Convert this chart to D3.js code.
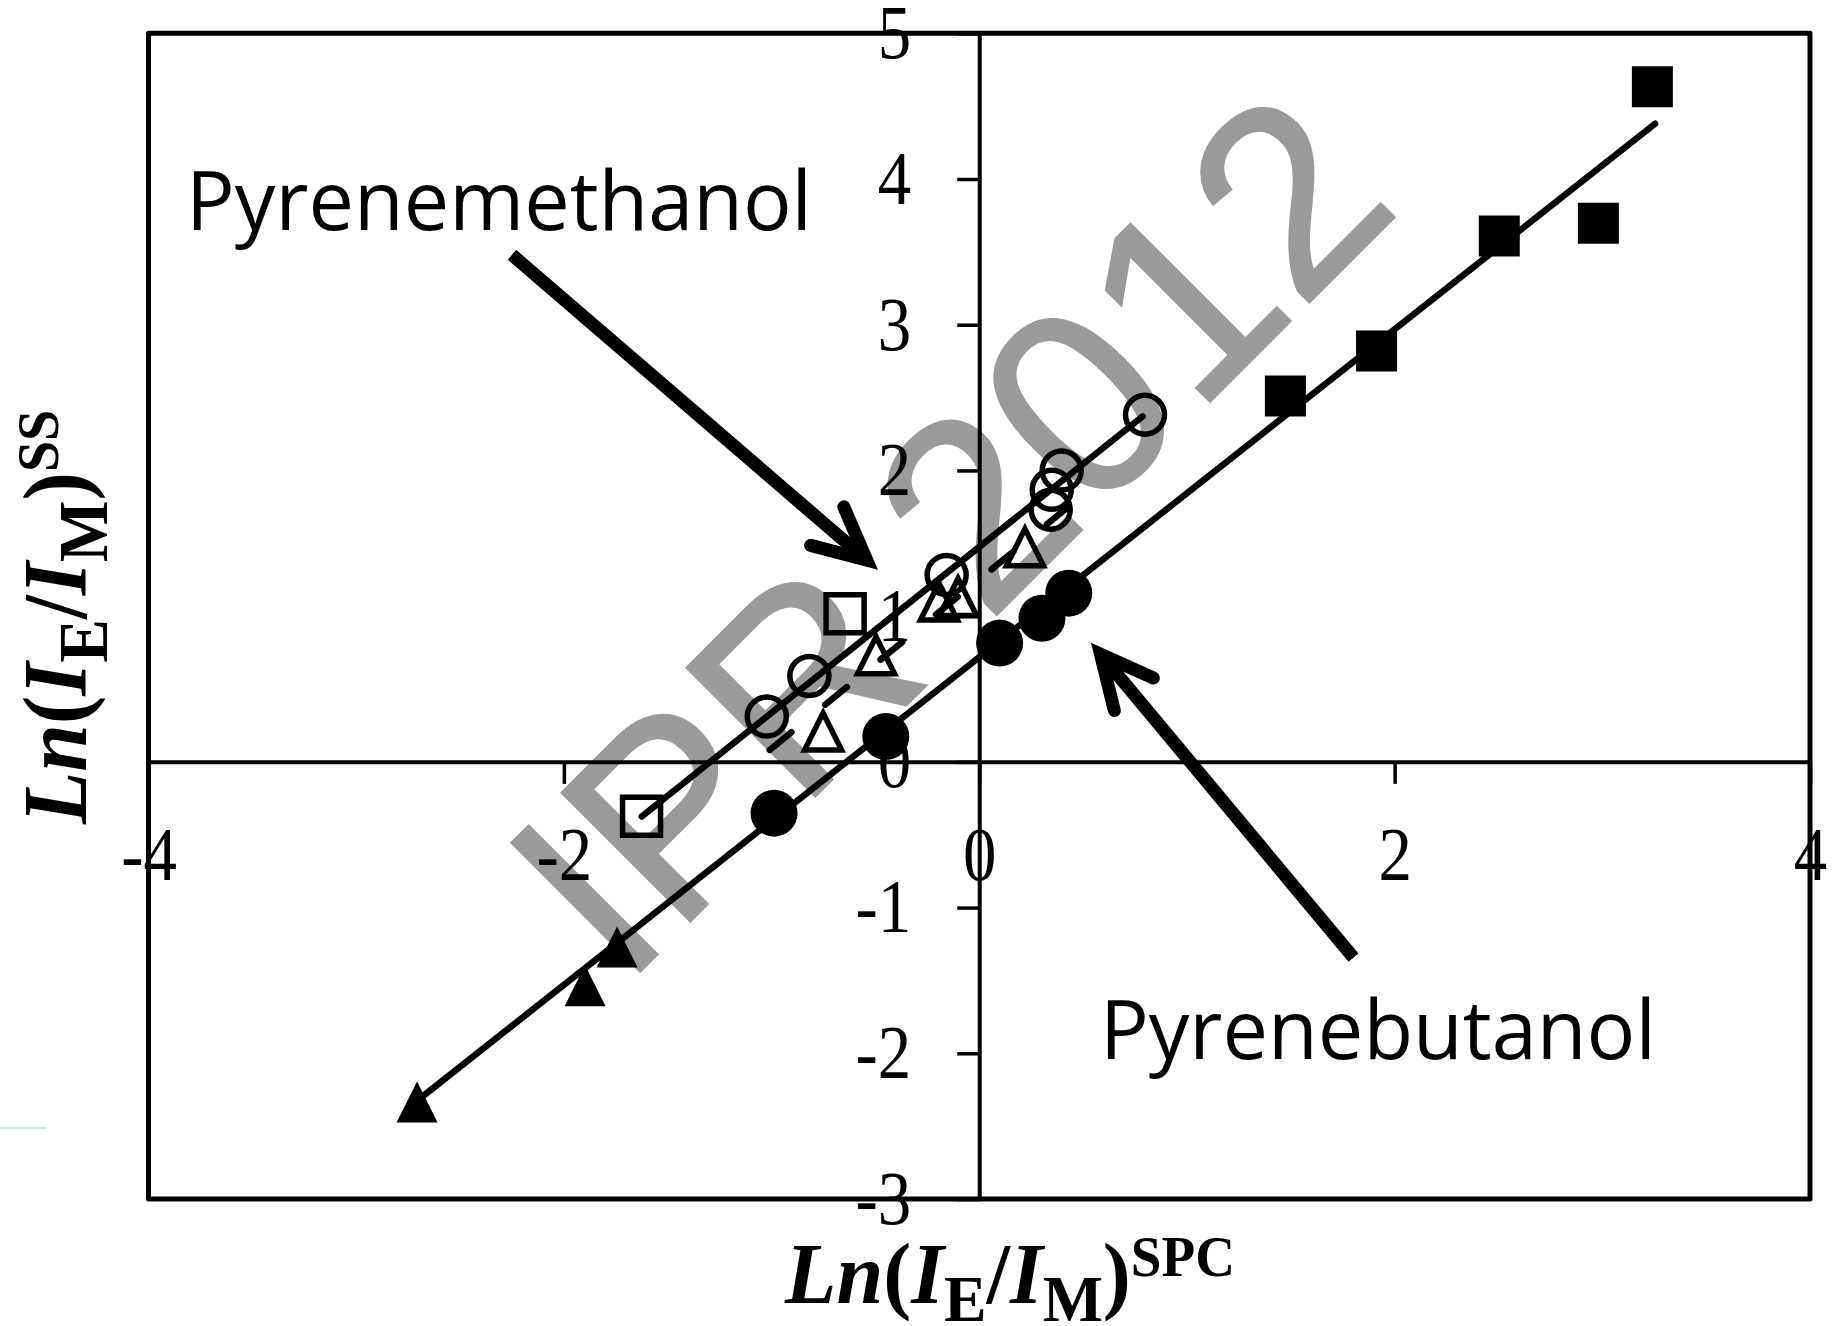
<!DOCTYPE html>
<html>
<head>
<meta charset="utf-8">
<script src="https://cdn.jsdelivr.net/npm/d3@7"></script>
<style>
  body { margin: 0; background: #fff; }
  svg { display: block; }
</style>
</head>
<body>
<div id="chart"></div>
<script>
var width = 1834, height = 1326;

// values (Ln(IE/IM) SPC on x, SS on y)
var filledSquareX = [3.241, 2.981, 2.504, 1.913, 1.474];
var filledSquareY = [4.633, 3.697, 3.609, 2.819, 2.510];
var filledCircleX = [-0.988, -0.450, 0.098, 0.302, 0.431];
var filledCircleY = [-0.352, 0.174, 0.815, 0.986, 1.158];
var filledTriX = [-2.707, -1.744, -1.898];
var filledTriY = [-2.334, -1.270, -1.537];
var openCircleX = [-1.023, -0.818, -0.157, 0.344, 0.349, 0.397, 0.798];
var openCircleY = [0.311, 0.590, 1.283, 1.730, 1.867, 1.999, 2.382];
var openTriX = [-0.752, -0.497, -0.194, -0.102, 0.220];
var openTriY = [0.208, 0.731, 1.100, 1.132, 1.472];
var openSquareX = [-1.626, -0.646];
var openSquareY = [-0.374, 1.016];

// trend lines [x1, y1, x2, y2]
var butanolFit = [-2.683, -2.299, 3.254, 4.379];
var methanolFit = [-1.625, -0.375, 0.786, 2.370];
var triangleFit = [-1.009, 0.082, 0.451, 1.776];

var xTicks = [-4, -2, 0, 2, 4];
var yTicks = [-3, -2, -1, 0, 1, 2, 3, 4, 5];

// annotations, in data units: [x, y]
var methLabel = [-3.819, 3.651];
var butLabel = [0.581, -2.038];
var methArrow = [-2.250, 3.480, -0.4875, 1.318];   // start, tip
var butArrow = [1.802, -1.344, 0.538, 0.817];
var watermarkPos = [0.165, 1.122];

var svg = d3.select("#chart").append("svg")
    .attr("width", width)
    .attr("height", height);

var x = d3.scaleLinear().domain([-4, 4]).range([148.5, 1810]);
var y = d3.scaleLinear().domain([-3, 5]).range([1199, 33.3]);

// grey watermark, sits under everything
svg.append("text")
    .attr("transform", `translate(${x(watermarkPos[0])},${y(watermarkPos[1])}) rotate(-45)`)
    .attr("text-anchor", "middle")
    .style("font-family", "'Liberation Sans', Arial, sans-serif")
    .style("font-size", "265px")
    .style("fill", "#9a9a9a")
    .style("stroke", "#9a9a9a")
    .style("stroke-width", 2)
    .text("IPR 2012");

// stray pale line at far left
svg.append("line")
    .attr("x1", 0).attr("x2", 46).attr("y1", 1128).attr("y2", 1128)
    .style("stroke", "#bfe0e8").style("stroke-width", 1.5);

// plot frame
svg.append("rect")
    .attr("x", x(-4)).attr("y", y(5))
    .attr("width", x(4) - x(-4)).attr("height", y(-3) - y(5))
    .style("fill", "none").style("stroke", "#000").style("stroke-width", 5)
    .style("stroke-linejoin", "round");

// axes crossing at zero
var yAxis = d3.axisLeft(y).tickValues(yTicks).tickSize(22).tickSizeOuter(0)
    .tickPadding(46).tickFormat(function(d) { return String(d); });
var xAxis = d3.axisBottom(x).tickValues(xTicks).tickSize(22).tickSizeOuter(0)
    .tickPadding(42).tickFormat(function(d) { return String(d); });

var gy = svg.append("g").attr("transform", `translate(${x(0)},0)`).call(yAxis);
var gx = svg.append("g").attr("transform", `translate(0,${y(0)})`).call(xAxis);

[gx, gy].forEach(function(g) {
  g.select(".domain").style("stroke", "#000").style("stroke-width", 4);
  g.selectAll(".tick line").style("stroke", "#000").style("stroke-width", 3.5);
  g.selectAll(".tick text")
    .style("font-family", "'Liberation Serif', 'Times New Roman', serif")
    .style("font-size", "76px")
    .style("fill", "#000");
});
// the digits in the picture are a bit narrow
gy.selectAll(".tick text").attr("x", -68 / 0.88).attr("transform", "scale(0.88,1)");
gx.selectAll(".tick text").attr("transform", "scale(0.88,1)");

// trend lines
function fitLine(p, dash) {
  svg.append("line")
      .attr("x1", x(p[0])).attr("y1", y(p[1]))
      .attr("x2", x(p[2])).attr("y2", y(p[3]))
      .style("stroke", "#000").style("stroke-width", 6.5)
      .style("stroke-linecap", "round")
      .style("stroke-dasharray", dash || null);
}
fitLine(butanolFit);
fitLine(methanolFit);
fitLine(triangleFit, "28 43.5");

// markers
function tri(h) {
  return `M0,${-h}L${h},${h}L${-h},${h}Z`;
}
function sq(h) {
  return `M${-h},${-h}H${h}V${h}H${-h}Z`;
}

function markers(xs, ys, shape, filled) {
  var sel = svg.append("g").selectAll("path")
    .data(d3.zip(xs, ys))
    .enter();
  var m;
  if (shape === "circle") {
    m = sel.append("circle")
      .attr("cx", function(d) { return x(d[0]); })
      .attr("cy", function(d) { return y(d[1]); })
      .attr("r", filled ? 23.5 : 19.5);
  } else {
    m = sel.append("path")
      .attr("transform", function(d) { return `translate(${x(d[0])},${y(d[1])})`; })
      .attr("d", shape === "square" ? sq(filled ? 20.5 : 19) : tri(filled ? 20.5 : 18.5));
  }
  if (filled) m.style("fill", "#000");
  else m.style("fill", "none").style("stroke", "#000").style("stroke-width", 5.5)
        .style("stroke-linejoin", "miter");
}

markers(openCircleX, openCircleY, "circle", false);
markers(openTriX, openTriY, "triangle", false);
markers(openSquareX, openSquareY, "square", false);
markers(filledCircleX, filledCircleY, "circle", true);
markers(filledSquareX, filledSquareY, "square", true);
markers(filledTriX, filledTriY, "triangle", true);

// annotation arrows
function arrow(a) {
  var x1 = x(a[0]), y1 = y(a[1]), x2 = x(a[2]), y2 = y(a[3]);
  var back = Math.atan2(y1 - y2, x1 - x2);
  var half = 26 * Math.PI / 180, L = 58, w = 13;
  // pull the vertex back so the mitred point lands on the tip
  var pull = (w / 2) / Math.sin(half);
  var vx = x2 + pull * Math.cos(back), vy = y2 + pull * Math.sin(back);
  svg.append("line")
      .attr("x1", x1).attr("y1", y1)
      .attr("x2", vx + 8 * Math.cos(back)).attr("y2", vy + 8 * Math.sin(back))
      .style("stroke", "#000").style("stroke-width", w);
  svg.append("path")
      .attr("d", `M${vx + L * Math.cos(back + half)},${vy + L * Math.sin(back + half)}` +
                 `L${vx},${vy}` +
                 `L${vx + L * Math.cos(back - half)},${vy + L * Math.sin(back - half)}`)
      .style("fill", "none").style("stroke", "#000").style("stroke-width", w)
      .style("stroke-linecap", "round").style("stroke-linejoin", "miter")
      .style("stroke-miterlimit", 10);
}
arrow(methArrow);
arrow(butArrow);

function label(pos, txt, len) {
  svg.append("text")
      .attr("x", x(pos[0])).attr("y", y(pos[1]))
      .attr("textLength", len).attr("lengthAdjust", "spacingAndGlyphs")
      .style("font-family", "'Open Sans', 'Noto Sans', sans-serif")
      .style("font-size", "83px")
      .style("fill", "#000")
      .text(txt);
}
label(methLabel, "Pyrenemethanol", 626);
label(butLabel, "Pyrenebutanol", 556);

// axis titles: Ln(I_E/I_M)^...
function title(g, sup, sizes, shifts, fitLen) {
  var t = g.append("text")
      .style("font-family", "'Liberation Serif', 'Times New Roman', serif")
      .style("font-weight", "bold")
      .style("fill", "#000");
  var parts = [["Ln", "italic", 0], ["(", "normal", 0], ["I", "italic", 0], ["E", "normal", 1],
               ["/", "normal", 0], ["I", "italic", 0], ["M", "normal", 1], [")", "normal", 0],
               [sup, "normal", 2]];
  var cur = 0;
  parts.forEach(function(p) {
    var off = shifts[p[2]];
    t.append("tspan")
        .attr("dy", off - cur)
        .style("font-style", p[1])
        .style("font-size", sizes[p[2]] + "px")
        .text(p[0]);
    cur = off;
  });
  var w = t.node().getBBox().width;
  t.attr("transform", `scale(${fitLen / w},1)`);
}

var gxt = svg.append("g").attr("transform", "translate(785,1303)");
title(gxt, "SPC", [87, 66, 57], [0, 18, -27], 451);

var gyt = svg.append("g").attr("transform", "translate(86,824) rotate(-90)");
title(gyt, "SS", [92, 70, 60], [0, 21, -28], 415);
</script>
</body>
</html>
